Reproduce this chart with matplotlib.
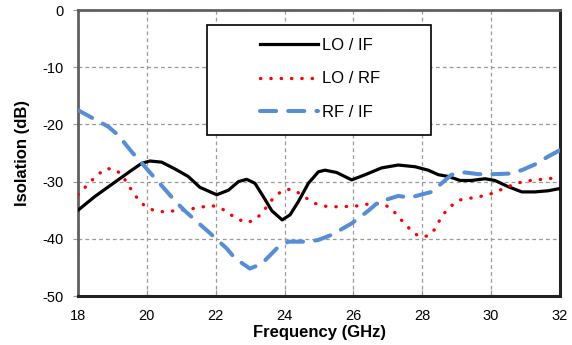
import matplotlib.pyplot as plt
from matplotlib.patches import Rectangle

plt.rcParams['font.family'] = ['Liberation Sans', 'DejaVu Sans']
plt.rcParams['axes.unicode_minus'] = False

# dados
freq_lo_if = [18, 18.49, 19.07, 19.56, 19.85, 20.09, 20.43, 20.82, 21.2, 21.54, 22.03, 22.37, 22.66,
              22.9, 23.14, 23.38, 23.63, 23.93, 24.16, 24.4, 24.69, 24.98, 25.17, 25.51, 25.95, 26.34,
              26.82, 27.3, 27.79, 28.17, 28.47, 28.76, 29.1, 29.43, 29.82, 30.11, 30.5, 30.89, 31.27,
              31.66, 32]
lo_if = [-35.0, -32.6, -30.1, -28.0, -26.8, -26.4, -26.6, -27.8, -29.1, -31.0, -32.3, -31.5, -30.0,
         -29.6, -30.3, -32.6, -35.1, -36.7, -35.8, -33.5, -30.3, -28.3, -28.0, -28.4, -29.7, -28.8,
         -27.6, -27.1, -27.4, -28.0, -28.8, -29.1, -29.8, -29.8, -29.5, -29.8, -30.9, -31.8, -31.8,
         -31.6, -31.2]

freq_lo_rf = [18, 18.38, 18.59, 18.83, 19.09, 19.3, 19.44, 19.61, 19.75, 19.95, 20.22, 20.51, 20.8,
              21.09, 21.35, 21.64, 21.9, 22.17, 22.41, 22.66, 22.92, 23.17, 23.38, 23.53, 23.72, 23.93,
              24.18, 24.45, 24.66, 24.88, 25.17, 25.46, 26.05, 26.34, 26.63, 26.9, 27.13, 27.3, 27.48,
              27.69, 27.9, 28.17, 28.37, 28.56, 28.8, 29.1, 29.39, 29.68, 29.97, 30.21, 30.45, 30.74,
              31.03, 31.32, 31.61, 32]
lo_rf = [-32.3, -29.9, -28.7, -27.7, -27.9, -29.0, -30.5, -31.9, -33.2, -34.3, -35.1, -35.3, -35.1,
         -34.9, -34.7, -34.4, -34.2, -34.7, -35.7, -36.6, -37.2, -36.5, -35.3, -33.9, -32.6, -31.6,
         -31.3, -32.1, -33.0, -33.8, -34.3, -34.4, -34.3, -34.0, -33.8, -34.0, -34.9, -36.1, -37.3,
         -38.6, -39.6, -39.5, -38.3, -36.1, -34.4, -33.2, -32.9, -32.6, -32.2, -31.6, -31.0, -30.3,
         -29.9, -29.7, -29.5, -29.3]

freq_rf_if = [18, 18.3, 18.88, 19.17, 19.56, 19.8, 20.19, 20.43, 20.82, 21.1, 21.51, 21.83, 22.32,
              22.56, 22.99, 23.33, 23.77, 24.11, 24.69, 24.98, 25.37, 25.66, 25.95, 26.43, 26.72,
              27.3, 27.64, 28.27, 28.56, 28.85, 29.24, 29.63, 30.11, 30.5, 30.89, 31.27, 31.66, 32]
rf_if = [-17.5, -18.5, -20.4, -21.9, -24.8, -26.4, -29.1, -30.7, -33.4, -35.1, -37.3, -39.0, -41.7,
         -43.4, -45.2, -44.4, -41.7, -40.5, -40.5, -40.2, -39.3, -38.3, -37.3, -35.1, -33.6,
         -32.5, -32.8, -31.8, -30.3, -28.8, -28.4, -28.7, -28.7, -28.6, -28.0, -27.0, -25.6, -24.5]

fig = plt.figure(figsize=(5.72, 3.45), dpi=100)
ax = fig.add_axes([0.1364, 0.142, 0.8426, 0.829])

ax.plot(freq_lo_if, lo_if, color='black', lw=2.3, label='LO / IF', zorder=3)
ax.plot(freq_lo_rf, lo_rf, color='red', lw=2.4, dashes=(0.1, 3.0), dash_capstyle='round',
        label='LO / RF', zorder=3)
ax.plot(freq_rf_if, rf_if, color='#558ED5', lw=2.9, dashes=(4.0, 3.0), dash_capstyle='round',
        label='RF / IF', zorder=3)

ax.set_xlim(18, 32)
ax.set_ylim(-50, 0)
ax.set_xticks(range(18, 33, 2))
ax.set_yticks(range(-50, 1, 10))
ax.grid(True, color='#999999', linestyle=(0, (3, 2.5)), lw=0.9)

for s in ['left', 'top']:
    ax.spines[s].set_color('#606060')
    ax.spines[s].set_linewidth(2.0)
for s in ['right', 'bottom']:
    ax.spines[s].set_color('#222222')
    ax.spines[s].set_linewidth(2.2)

ax.tick_params(axis='x', direction='in', length=4, color='#999999', labelsize=10.5, pad=9)
ax.tick_params(axis='y', direction='out', length=3.5, color='#999999', labelsize=10.5, pad=7)

ax.set_xlabel('Frequency (GHz)', fontsize=12, fontweight='bold', labelpad=2)
ax.set_ylabel('Isolation (dB)', fontsize=12, fontweight='bold', labelpad=9)

# caixa da legenda
ax.add_patch(Rectangle((0.268, 0.563), 0.464, 0.385, transform=ax.transAxes,
                       facecolor='white', edgecolor='black', lw=1.2, zorder=4))
ax.legend(loc='center', bbox_to_anchor=(0.502, 0.759), frameon=False, fontsize=12,
          handlelength=3.5, handletextpad=0.25, labelspacing=1.1).set_zorder(5)

fig.savefig('out.png', dpi=100)
